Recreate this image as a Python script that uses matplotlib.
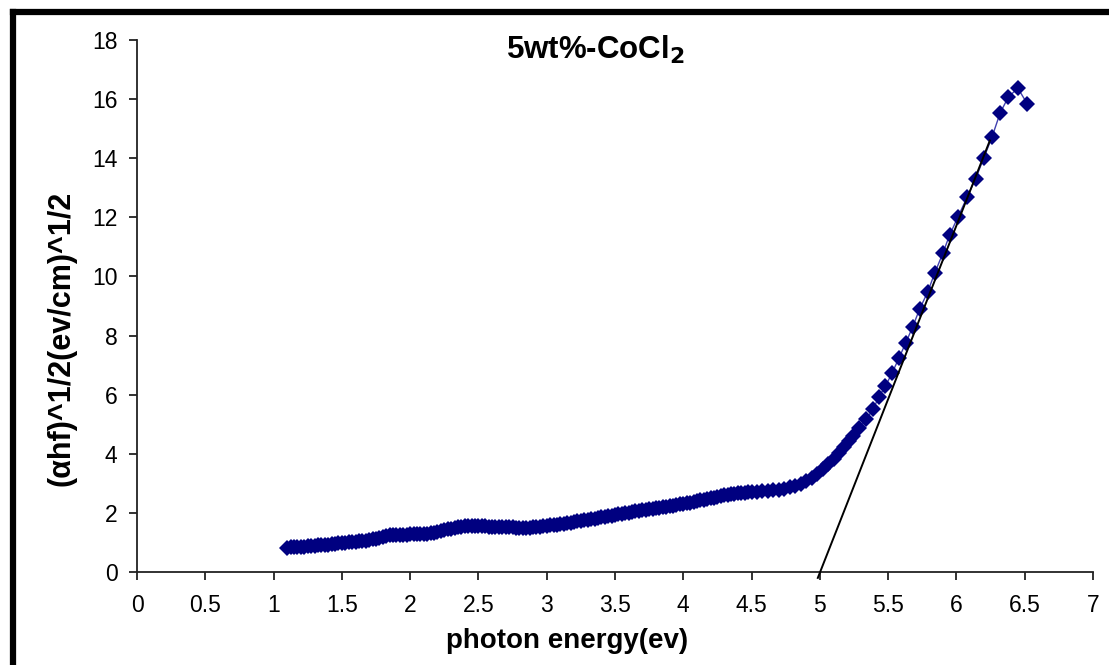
"""
Tauc plot for 5wt%-CoCl2 film: (alpha h f)^1/2 vs photon energy,
with the linear fit extrapolated to the energy axis.
"""
import matplotlib
matplotlib.use('Agg')
import matplotlib.pyplot as plt
from matplotlib.lines import Line2D

plt.rcParams['font.family'] = ['Liberation Sans', 'DejaVu Sans']

# dense low-energy part (points overlap into a solid band)
energy_low = [
    1.100, 1.125, 1.150, 1.175, 1.200, 1.225, 1.250, 1.275, 1.300, 1.325,
    1.350, 1.375, 1.400, 1.425, 1.450, 1.475, 1.500, 1.525, 1.550, 1.575,
    1.600, 1.625, 1.650, 1.675, 1.700, 1.725, 1.750, 1.775, 1.800, 1.825,
    1.850, 1.875, 1.900, 1.925, 1.950, 1.975, 2.000, 2.025, 2.050, 2.075,
    2.100, 2.125, 2.150, 2.175, 2.200, 2.225, 2.250, 2.275, 2.300, 2.325,
    2.350, 2.375, 2.400, 2.425, 2.450, 2.475, 2.500, 2.525, 2.550, 2.575,
    2.600, 2.625, 2.650, 2.675, 2.700, 2.725, 2.750, 2.775, 2.800, 2.825,
    2.850, 2.875, 2.900, 2.925, 2.950, 2.975, 3.000, 3.025, 3.050, 3.075,
    3.100, 3.125, 3.150, 3.175, 3.200, 3.225, 3.250, 3.275, 3.300, 3.325,
    3.350, 3.375, 3.400, 3.425, 3.450, 3.475, 3.500, 3.525, 3.550, 3.575,
    3.600, 3.625, 3.650, 3.675, 3.700, 3.725, 3.750, 3.775, 3.800, 3.825,
    3.850, 3.875, 3.900, 3.925, 3.950, 3.975, 4.000, 4.025, 4.050, 4.075,
    4.100, 4.125, 4.150, 4.175, 4.200, 4.225, 4.250, 4.275, 4.300, 4.325,
    4.350, 4.375, 4.400, 4.425, 4.450, 4.475, 4.500, 4.540, 4.580, 4.620,
    4.660, 4.700, 4.740, 4.780, 4.820, 4.860, 4.900, 4.940, 4.980, 5.020,
    5.060, 5.100, 5.140, 5.180, 5.210]
tauc_low = [
    0.820, 0.830, 0.840, 0.845, 0.850, 0.860, 0.870, 0.880, 0.890, 0.900,
    0.910, 0.920, 0.930, 0.945, 0.960, 0.970, 0.980, 0.990, 1.000, 1.015,
    1.030, 1.040, 1.050, 1.065, 1.080, 1.100, 1.130, 1.165, 1.200, 1.225,
    1.240, 1.245, 1.250, 1.255, 1.260, 1.265, 1.270, 1.275, 1.280, 1.285,
    1.290, 1.300, 1.310, 1.330, 1.350, 1.380, 1.410, 1.440, 1.470, 1.500,
    1.520, 1.530, 1.540, 1.540, 1.540, 1.540, 1.540, 1.540, 1.540, 1.535,
    1.530, 1.530, 1.530, 1.525, 1.520, 1.515, 1.510, 1.505, 1.500, 1.500,
    1.500, 1.505, 1.510, 1.520, 1.530, 1.545, 1.560, 1.575, 1.590, 1.605,
    1.620, 1.635, 1.650, 1.670, 1.690, 1.710, 1.730, 1.750, 1.770, 1.790,
    1.810, 1.830, 1.850, 1.870, 1.890, 1.910, 1.930, 1.950, 1.970, 1.990,
    2.010, 2.030, 2.050, 2.070, 2.090, 2.110, 2.130, 2.145, 2.160, 2.175,
    2.190, 2.210, 2.230, 2.250, 2.270, 2.290, 2.310, 2.330, 2.350, 2.375,
    2.400, 2.420, 2.440, 2.465, 2.490, 2.515, 2.540, 2.565, 2.590, 2.610,
    2.630, 2.645, 2.660, 2.670, 2.680, 2.690, 2.700, 2.715, 2.730, 2.750,
    2.765, 2.790, 2.820, 2.860, 2.920, 2.990, 3.080, 3.190, 3.330, 3.480,
    3.640, 3.820, 4.020, 4.240, 4.420]

# sparse absorption-edge part
energy_edge = [5.24, 5.29, 5.34, 5.39, 5.43, 5.48, 5.53, 5.58, 5.63, 5.68,
               5.73, 5.79, 5.84, 5.90, 5.95, 6.01, 6.08, 6.14, 6.20, 6.26,
               6.32, 6.38, 6.45, 6.52]
tauc_edge = [4.60, 4.86, 5.18, 5.50, 5.91, 6.29, 6.74, 7.25, 7.76, 8.30,
             8.89, 9.48, 10.10, 10.78, 11.40, 12.00, 12.70, 13.30, 14.00, 14.71,
             15.53, 16.07, 16.37, 15.83]

# linear extrapolation (band gap ~5.0 eV)
fit_x = [4.985, 6.245]
fit_y = [-0.2, 14.6]

energy = energy_low + energy_edge
tauc = tauc_low + tauc_edge

fig = plt.figure(figsize=(11.09, 6.65), dpi=100)
ax = fig.add_axes([137 / 1109, 1 - 572 / 665, (1093 - 137) / 1109, (572 - 40) / 665])

ax.plot(energy, tauc, '-', color='#4040b0', linewidth=1, zorder=2)
ax.plot(energy, tauc, 'D', color='#000080', markersize=8, markeredgewidth=0, zorder=3)
ax.plot(fit_x, fit_y, '-', color='black', linewidth=1.4, zorder=4, clip_on=False)

ax.set_xlim(0, 7)
ax.set_ylim(0, 18)
ax.set_xticks([0, 0.5, 1, 1.5, 2, 2.5, 3, 3.5, 4, 4.5, 5, 5.5, 6, 6.5, 7])
ax.set_xticklabels(['0', '0.5', '1', '1.5', '2', '2.5', '3', '3.5', '4', '4.5',
                    '5', '5.5', '6', '6.5', '7'])
ax.set_yticks(range(0, 19, 2))

for side in ['top', 'right']:
    ax.spines[side].set_visible(False)
for side in ['left', 'bottom']:
    ax.spines[side].set_linewidth(1.3)
    ax.spines[side].set_color('#222222')
ax.tick_params(axis='x', direction='out', length=6, width=1.3, pad=10,
               labelsize=16.5, color='#222222')
ax.tick_params(axis='y', direction='out', length=6, width=1.3, pad=8,
               labelsize=16.5, color='#222222')

fig.text(0.537, 1 - 59 / 665, r'5wt%-CoCl$_\mathbf{2}$', ha='center', va='baseline',
         fontsize=22.5, fontweight='bold')
fig.text(567 / 1109, 1 - 648 / 665, 'photon energy(ev)', ha='center', va='baseline',
         fontsize=20, fontweight='bold')
fig.text(62 / 1109, 1 - 338 / 665, '(\u03b1hf)^1/2(ev/cm)^1/2', ha='center', va='center',
         rotation=90, fontsize=22, fontweight='bold')

# black frame, cut off at right and bottom
fx = 13 / 1109
fy = 1 - 12 / 665
fig.add_artist(Line2D([fx, fx], [0, fy], color='black', linewidth=4.5,
                      transform=fig.transFigure, solid_capstyle='projecting'))
fig.add_artist(Line2D([fx, 1], [fy, fy], color='black', linewidth=4.5,
                      transform=fig.transFigure, solid_capstyle='projecting'))

plt.savefig('out.png', dpi=100)
